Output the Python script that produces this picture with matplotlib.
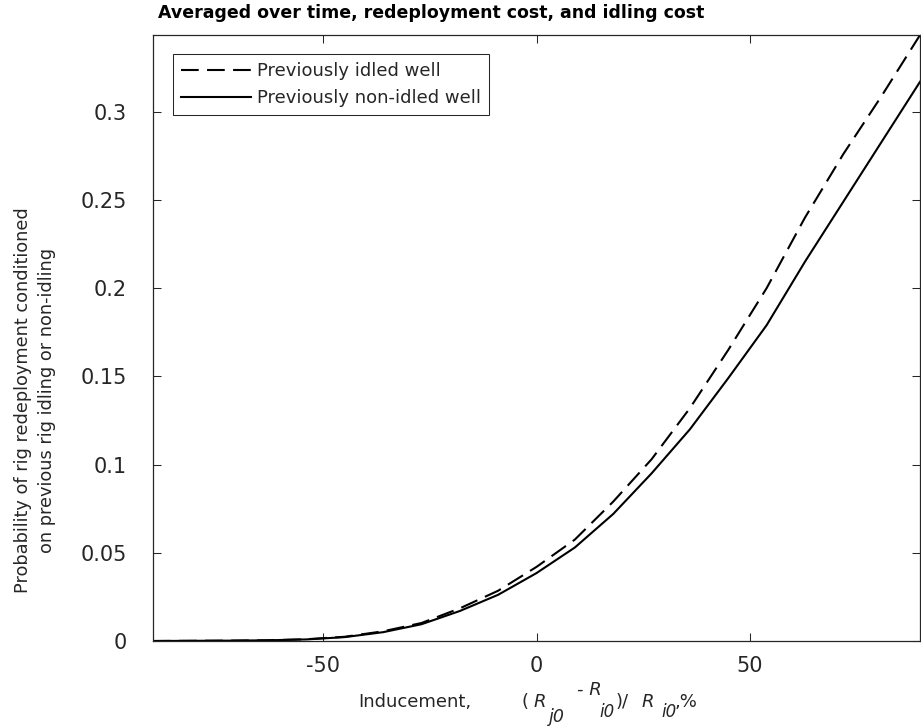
import matplotlib
matplotlib.use("Agg")
import matplotlib.pyplot as plt

# Data
inducement = [-90, -81, -72, -63, -54, -45, -36, -27, -18, -9, 0, 9, 18, 27, 36, 45, 54, 63, 72, 81, 90]
prob_idled = [0.0000, 0.0001, 0.0002, 0.0004, 0.0010, 0.0024, 0.0055, 0.0102, 0.0185, 0.0285, 0.0420,
              0.0575, 0.0790, 0.1030, 0.1320, 0.1650, 0.2000, 0.2400, 0.2760, 0.3090, 0.3435]
prob_nonidled = [0.0000, 0.0001, 0.0002, 0.0004, 0.0009, 0.0022, 0.0050, 0.0095, 0.0170, 0.0262, 0.0385,
                 0.0530, 0.0720, 0.0950, 0.1200, 0.1490, 0.1790, 0.2150, 0.2490, 0.2830, 0.3170]
series_labels = ["Previously idled well", "Previously non-idled well"]
xticks = [-50, 0, 50]
yticks = [0, 0.05, 0.1, 0.15, 0.2, 0.25, 0.3]
ytick_labels = ["0", "0.05", "0.1", "0.15", "0.2", "0.25", "0.3"]
title = "Averaged over time, redeployment cost, and idling cost"
ylabel = "Probability of rig redeployment conditioned\non previous rig idling or non-idling"

W, H = 921, 727
fig = plt.figure(figsize=(W / 100, H / 100), dpi=100)
ax_l, ax_r, ax_t, ax_b = 153, 920, 34.7, 641
ax = fig.add_axes([ax_l / W, (H - ax_b) / H, (ax_r - ax_l) / W, (ax_b - ax_t) / H])

gray = "#262626"
ax.plot(inducement, prob_idled, color="black", lw=1.5, linestyle=(0, (8.5, 4)), label=series_labels[0])
ax.plot(inducement, prob_nonidled, color="black", lw=1.5, linestyle="-", label=series_labels[1])

ax.set_xlim(-90, 90)
ax.set_ylim(0, 0.3437)
ax.set_xticks(xticks)
ax.set_xticklabels([str(t) for t in xticks])
ax.set_yticks(yticks)
ax.set_yticklabels(ytick_labels)
ax.tick_params(direction="in", length=5.8, width=0.75, colors=gray, labelsize=15,
               top=True, right=True)
ax.tick_params(axis="x", pad=11)
ax.tick_params(axis="y", pad=19)
for s in ax.spines.values():
    s.set_color(gray)
    s.set_linewidth(0.9)

fig.text(158 / W, 1 - 18 / H, title, fontsize=12.5, fontweight="bold", ha="left", va="baseline")
fig.text(35 / W, 1 - 400 / H, ylabel, rotation=90, fontsize=12.8, ha="center", va="center",
         multialignment="center", color=gray, linespacing=1.45)

# x label pieces (positions in pixels)
def ptext(x, y, s, **kw):
    fig.text(x / W, 1 - y / H, s, color=gray, va="baseline", ha="left", **kw)

ptext(358, 707, "Inducement,", fontsize=13)
ptext(521, 707, "(", fontsize=13)
ptext(534, 707, "R", fontsize=13, style="italic")
ptext(549, 722, "j0", fontsize=12.5, style="italic")
ptext(577, 695, "- R", fontsize=13, style="italic")
ptext(599, 717, "i0", fontsize=12, style="italic")
ptext(616, 707, ")/", fontsize=13)
ptext(642, 707, "R", fontsize=13, style="italic")
ptext(661, 717, "i0", fontsize=12, style="italic")
ptext(675, 707, ",%", fontsize=13)

leg = ax.legend(loc="upper left",
                bbox_to_anchor=((173 - ax_l) / (ax_r - ax_l), 1 - (54 - ax_t) / (ax_b - ax_t)),
                borderaxespad=0, fontsize=13, handlelength=3.9, handletextpad=0.33,
                borderpad=0.44, labelspacing=0.5, fancybox=False, framealpha=1)
leg.get_frame().set_edgecolor(gray)
leg.get_frame().set_linewidth(0.75)
for t in leg.get_texts():
    t.set_color(gray)

fig.savefig("out.png", dpi=100)
